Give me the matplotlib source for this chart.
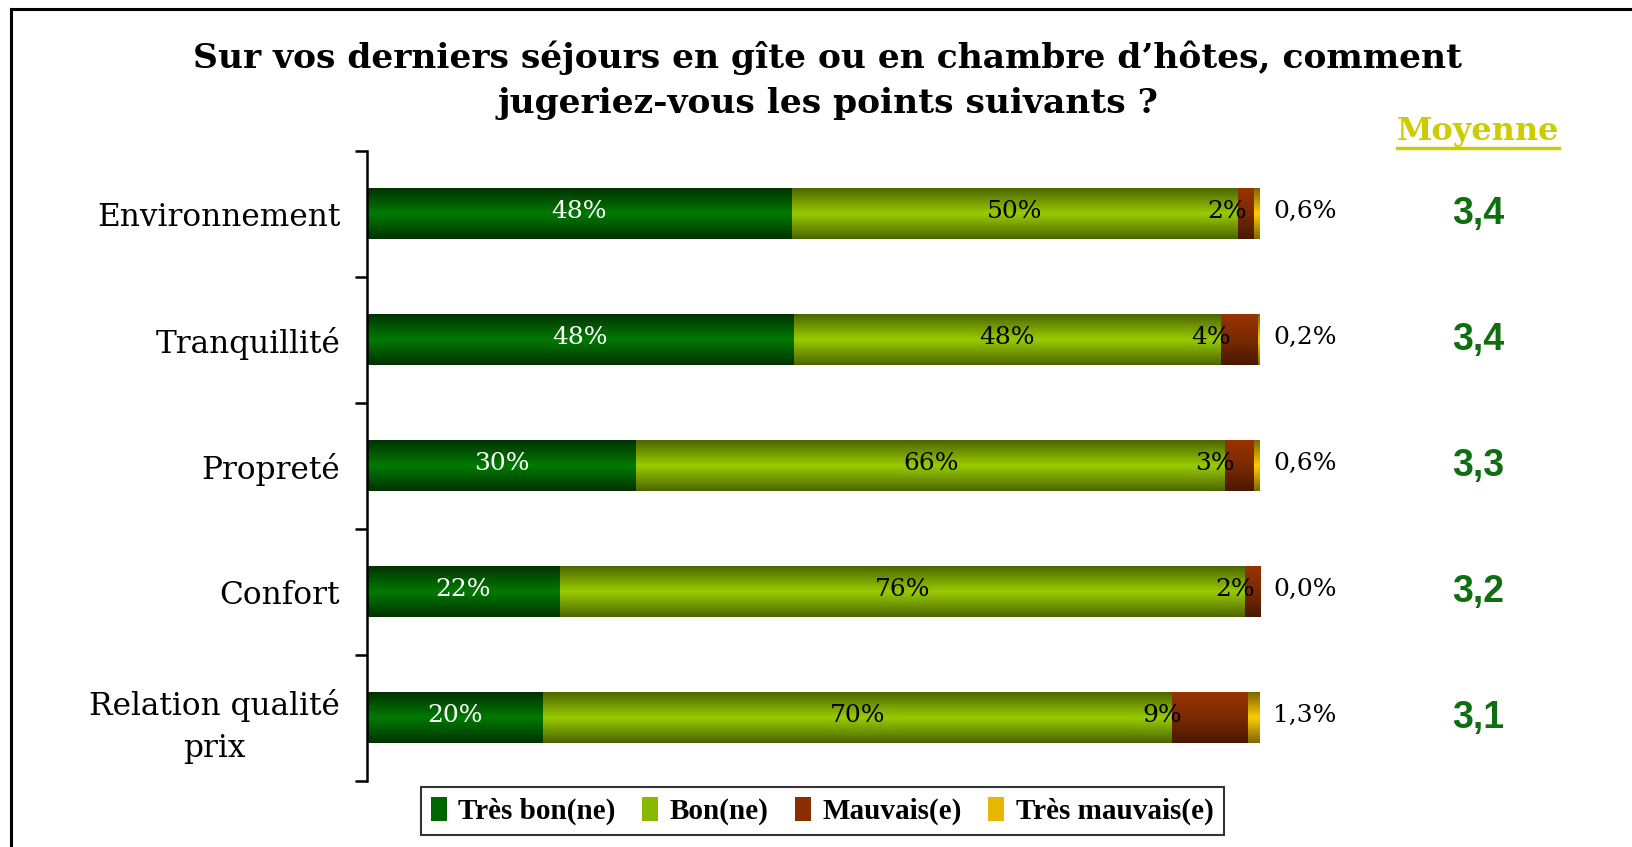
import numpy as np
import matplotlib
matplotlib.use("Agg")
import matplotlib.pyplot as plt
from matplotlib.colors import LinearSegmentedColormap
from matplotlib.lines import Line2D
from matplotlib.patches import Patch

categories = ["Environnement", "Tranquillité", "Propreté", "Confort", "Relation qualité\nprix"]
tres_bon = [47.6, 47.8, 30.2, 21.7, 19.8]
bon = [49.9, 47.8, 65.9, 76.6, 70.4]
mauvais = [1.9, 4.2, 3.3, 1.7, 8.5]
tres_mauvais = [0.6, 0.2, 0.6, 0.0, 1.3]
lbl_tres_bon = ["48%", "48%", "30%", "22%", "20%"]
lbl_bon = ["50%", "48%", "66%", "76%", "70%"]
lbl_mauvais = ["2%", "4%", "3%", "2%", "9%"]
lbl_tres_mauvais = ["0,6%", "0,2%", "0,6%", "0,0%", "1,3%"]
moyennes = ["3,4", "3,4", "3,3", "3,2", "3,1"]
legend_names = ["Très bon(ne)", "Bon(ne)", "Mauvais(e)", "Très mauvais(e)"]
title_lines = ["Sur vos derniers séjours en gîte ou en chambre d’hôtes, comment",
               "jugeriez-vous les points suivants ?"]

# gradient colours: (edge, middle, edge) or (top, ..., bottom)
grad = [
    ["#003300", "#007a00", "#003300"],
    ["#4d6600", "#99cc00", "#4d6600"],
    ["#993300", "#7a2a00", "#4a1800"],
    ["#806600", "#ffcc00", "#806600"],
]
solid = ["#006600", "#88b800", "#8a2e00", "#e6b800"]

fig = plt.figure(figsize=(16.33, 8.47), dpi=100)
ax = fig.add_axes([0.2245, 0.078, 0.547, 0.744])

series = [tres_bon, bon, mauvais, tres_mauvais]
h = 0.4
n = len(categories)
for i in range(n):
    left = 0
    for s in range(4):
        w = series[s][i]
        if w > 0:
            cmap = LinearSegmentedColormap.from_list("g%d" % s, grad[s])
            col = np.linspace(0, 1, 64).reshape(-1, 1)
            ax.imshow(col, cmap=cmap, aspect="auto", interpolation="bilinear",
                      extent=(left, left + w, i + h / 2, i - h / 2), zorder=2)
        left += w
    # labels
    ax.text(tres_bon[i] / 2, i - 0.02, lbl_tres_bon[i], ha="center", va="center",
            color="white", fontsize=18, family="DejaVu Serif", zorder=5)
    ax.text(tres_bon[i] + bon[i] / 2, i - 0.02, lbl_bon[i], ha="center", va="center",
            color="black", fontsize=18, family="DejaVu Serif", zorder=5)
    m0 = tres_bon[i] + bon[i]
    ax.text(m0 + 1.1, i - 0.02, lbl_mauvais[i], ha="right", va="center",
            color="black", fontsize=18, family="DejaVu Serif", zorder=5)
    ax.text(101.5, i - 0.02, lbl_tres_mauvais[i], ha="left", va="center",
            color="black", fontsize=18, family="DejaVu Serif", zorder=5)
    ax.text(124.4, i, moyennes[i], ha="center", va="center", color="#0f6e0f",
            fontsize=27, fontweight="bold", family="Liberation Sans", zorder=5)

ax.set_xlim(0, 100)
ax.set_ylim(n - 0.5, -0.5)
for sp in ["top", "right", "bottom"]:
    ax.spines[sp].set_visible(False)
ax.spines["left"].set_linewidth(1.8)
ax.set_xticks([])
ax.set_yticks(range(n))
ax.set_yticklabels(categories, fontsize=22.5, family="DejaVu Serif",
                   multialignment="center", linespacing=1.45)
ax.tick_params(axis="y", which="major", length=0, pad=19)
ax.set_yticks(np.arange(-0.5, n, 1), minor=True)
ax.tick_params(axis="y", which="minor", length=9, width=1.8, direction="out")

# title as two separate lines
fig.text(0.507, 0.932, title_lines[0], ha="center", va="center", fontsize=24.8,
         fontweight="bold", family="DejaVu Serif")
fig.text(0.507, 0.878, title_lines[1], ha="center", va="center", fontsize=24.8,
         fontweight="bold", family="DejaVu Serif")

moy = fig.text(0.905, 0.845, "Moyenne", ha="center", va="center", fontsize=23,
               fontweight="bold", family="DejaVu Serif", color="#cccc00")
fig.canvas.draw()
bb = moy.get_window_extent().transformed(fig.transFigure.inverted())
fig.add_artist(Line2D([bb.x0, bb.x1], [bb.y0 - 0.002, bb.y0 - 0.002], color="#cccc00", lw=2.5))

handles = [Patch(facecolor=solid[s], edgecolor="none") for s in range(4)]
leg = fig.legend(handles, legend_names, loc="center", bbox_to_anchor=(0.5035, 0.0425), ncol=4,
                 frameon=True, fancybox=False, handlelength=0.55, handleheight=0.9,
                 handletextpad=0.4, columnspacing=0.9, borderpad=0.35,
                 prop={"family": "Liberation Serif", "weight": "bold", "size": 21})
leg.get_frame().set_edgecolor("black")
leg.get_frame().set_linewidth(1.5)

# outer frame (left and top)
fig.add_artist(Line2D([0.0065, 0.0065], [0.0, 0.989], color="black", lw=2.2))
fig.add_artist(Line2D([0.0065, 1.0], [0.989, 0.989], color="black", lw=2.2))

fig.savefig("out.png", dpi=100)
